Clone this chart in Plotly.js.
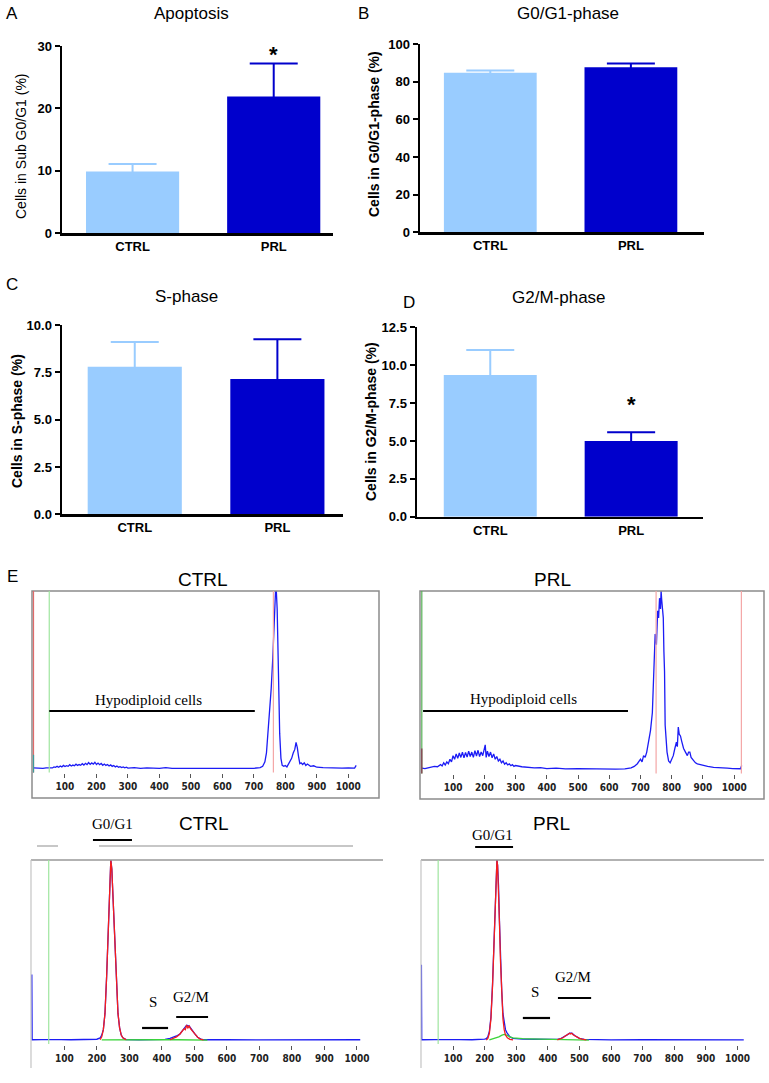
<!DOCTYPE html>
<html>
<head>
<meta charset="utf-8">
<script src="https://cdn.plot.ly/plotly-3.0.1.min.js"></script>
<style>
  html, body { margin: 0; padding: 0; background: #fff; }
  #fig { width: 769px; height: 1083px; }
</style>
</head>
<body>
<div id="fig"></div>
<script>
// Panels A–D: mean % of cells with upper error bar, CTRL vs PRL.
// Panel E: four flow-cytometry DNA histograms (relative counts).

const groups = ['CTRL', 'PRL'];
const groupColours = ['#99CCFF', '#0000CC'];

const apoptosisMean = [9.9, 21.9];
const apoptosisErr  = [1.2, 5.3];
const g0g1Mean      = [84.7, 87.6];
const g0g1Err       = [1.2, 2.1];
const sPhaseMean    = [7.8, 7.15];
const sPhaseErr     = [1.3, 2.1];
const g2mMean       = [9.35, 5.0];
const g2mErr        = [1.65, 0.57];

const histTicks = [100, 200, 300, 400, 500, 600, 700, 800, 900, 1000];

// [channel, relative count] — sub-G1 (hypodiploid) histograms
const ctrlSubG1 = [
  [0,0.006],[10,0.004],[20,0.005],[30,0.003],[40,0.006],[50,0.005],[55,0.008],[60,0.006],[65,0.012],[70,0.009],
  [75,0.015],[80,0.01],[85,0.017],[90,0.012],[95,0.02],[100,0.014],[105,0.019],[110,0.015],[115,0.024],[120,0.017],
  [125,0.022],[130,0.018],[135,0.027],[140,0.02],[145,0.025],[150,0.021],[155,0.03],[160,0.022],[165,0.032],[170,0.025],
  [175,0.036],[180,0.026],[185,0.034],[190,0.027],[195,0.038],[200,0.025],[205,0.033],[210,0.024],[215,0.031],[220,0.021],
  [225,0.028],[230,0.02],[235,0.025],[240,0.017],[245,0.023],[250,0.015],[255,0.02],[260,0.012],[265,0.017],[270,0.01],
  [275,0.013],[280,0.008],[285,0.012],[290,0.007],[295,0.01],[300,0.005],[320,0.008],[340,0.004],[360,0.006],[380,0.003],
  [400,0.004],[420,0.008],[440,0.003],[460,0.004],[480,0.003],[500,0.005],[520,0.003],[540,0.004],[560,0.003],[580,0.004],
  [600,0.003],[620,0.005],[640,0.003],[660,0.004],[680,0.003],[700,0.004],[710,0.004],[720,0.008],[728,0.015],[735,0.04],
  [740,0.09],[745,0.2],[750,0.33],[755,0.45],[760,0.62],[765,0.82],[770,1.05],[774,0.9],[778,0.45],[782,0.2],
  [786,0.06],[790,0.02],[795,0.015],[800,0.02],[805,0.012],[810,0.03],[815,0.045],[820,0.06],[825,0.09],[830,0.11],
  [834,0.15],[838,0.12],[842,0.07],[846,0.03],[850,0.035],[855,0.025],[860,0.035],[865,0.02],[870,0.028],[880,0.015],
  [890,0.018],[900,0.01],[920,0.008],[940,0.006],[960,0.007],[980,0.005],[1000,0.006],[1020,0.005],[1025,0.02]
];
const prlSubG1 = [
  [0,0.01],[10,0.008],[20,0.012],[30,0.015],[40,0.02],[50,0.018],[60,0.03],[65,0.022],[70,0.04],[75,0.028],
  [80,0.045],[85,0.035],[90,0.06],[95,0.045],[100,0.08],[105,0.06],[110,0.09],[115,0.065],[120,0.095],[125,0.07],
  [130,0.1],[135,0.068],[140,0.098],[145,0.072],[150,0.105],[155,0.075],[160,0.1],[165,0.07],[170,0.108],[175,0.078],
  [180,0.11],[185,0.075],[190,0.1],[195,0.08],[200,0.125],[203,0.14],[206,0.07],[210,0.105],[215,0.075],[220,0.1],
  [225,0.068],[230,0.09],[235,0.06],[240,0.075],[245,0.05],[250,0.06],[255,0.04],[260,0.05],[265,0.032],[270,0.04],
  [275,0.028],[280,0.034],[285,0.024],[290,0.03],[295,0.02],[300,0.025],[320,0.018],[340,0.014],[360,0.012],[380,0.013],
  [400,0.008],[430,0.01],[460,0.006],[500,0.007],[540,0.005],[580,0.006],[620,0.005],[650,0.006],[670,0.012],[680,0.02],
  [690,0.035],[700,0.06],[705,0.045],[710,0.08],[715,0.07],[720,0.1],[726,0.155],[732,0.22],[738,0.32],[742,0.53],
  [747,0.76],[751,0.7],[755,0.89],[758,0.85],[761,0.96],[764,0.9],[766,1.0],[768,0.95],[770,0.88],[773,0.85],
  [775,0.66],[777,0.55],[779,0.25],[782,0.15],[785,0.1],[788,0.07],[790,0.05],[795,0.04],[800,0.06],[805,0.08],
  [810,0.12],[815,0.155],[818,0.13],[821,0.24],[824,0.2],[828,0.19],[832,0.16],[838,0.12],[844,0.1],[850,0.08],
  [854,0.1],[858,0.1],[862,0.07],[866,0.06],[870,0.05],[876,0.04],[882,0.034],[890,0.03],[902,0.025],[915,0.02],
  [934,0.015],[950,0.012],[965,0.01],[978,0.01],[995,0.008],[1010,0.006],[1020,0.007],[1024,0.025]
];

// cell-cycle histograms: raw (blue), G0/G1 + G2/M fits (red), S fit (green)
const ctrlCycleRaw = [
  [0,0.365],[1,0.004],[30,0.005],[60,0.003],[90,0.005],[120,0.004],[150,0.005],[180,0.004],[200,0.007],[210,0.014],
  [215,0.03],[220,0.06],[225,0.15],[230,0.35],[235,0.6],[240,0.88],[243,1.0],[246,0.95],[250,0.78],[255,0.55],
  [260,0.3],[265,0.15],[270,0.07],[275,0.03],[280,0.015],[290,0.005],[330,0.004],[370,0.005],[410,0.006],[425,0.012],
  [435,0.018],[445,0.025],[455,0.035],[462,0.05],[468,0.065],[476,0.085],[484,0.08],[492,0.058],[502,0.035],[510,0.018],
  [520,0.008],[530,0.004],[560,0.003],[600,0.004],[700,0.003],[800,0.004],[900,0.003],[1010,0.004]
];
const ctrlG1Fit = [
  [210,0.004],[215,0.02],[220,0.06],[225,0.15],[230,0.35],[235,0.6],[240,0.88],[243,1.0],[246,0.95],[250,0.78],
  [255,0.55],[260,0.3],[265,0.15],[270,0.07],[275,0.03],[280,0.015],[285,0.008],[290,0.004]
];
const ctrlG2mFit = [
  [425,0.004],[435,0.01],[445,0.02],[455,0.035],[462,0.05],[468,0.065],[472,0.06],[476,0.085],[480,0.07],[484,0.08],
  [488,0.065],[492,0.058],[497,0.045],[502,0.035],[510,0.018],[518,0.008],[528,0.003]
];
const ctrlSFit = [
  [215,0.003],[260,0.004],[300,0.003],[350,0.003],[400,0.004],[450,0.004],[500,0.003],[540,0.002]
];
const prlCycleRaw = [
  [0,0.42],[1,0.004],[40,0.005],[80,0.003],[120,0.005],[160,0.004],[190,0.005],[200,0.008],[205,0.01],[210,0.02],
  [215,0.05],[220,0.13],[225,0.31],[230,0.56],[234,0.79],[237,0.95],[239,1.0],[241,0.97],[244,0.86],[247,0.66],
  [250,0.47],[254,0.28],[258,0.15],[262,0.09],[266,0.06],[270,0.045],[275,0.03],[280,0.02],[290,0.012],[300,0.01],
  [320,0.008],[360,0.007],[400,0.006],[430,0.006],[440,0.01],[450,0.018],[460,0.03],[469,0.04],[476,0.04],[486,0.026],
  [500,0.012],[515,0.006],[540,0.004],[600,0.003],[700,0.004],[800,0.003],[900,0.004],[1020,0.003]
];
const prlG1Fit = [
  [205,0.003],[210,0.01],[215,0.04],[220,0.12],[225,0.3],[230,0.55],[234,0.78],[237,0.94],[239,1.0],[241,0.97],
  [244,0.85],[247,0.65],[250,0.45],[254,0.25],[258,0.12],[262,0.06],[266,0.03],[272,0.015],[280,0.006],[290,0.003]
];
const prlG2mFit = [
  [430,0.003],[440,0.008],[448,0.015],[455,0.025],[460,0.03],[465,0.035],[469,0.04],[472,0.036],[476,0.04],[480,0.032],
  [486,0.025],[492,0.02],[500,0.012],[508,0.008],[515,0.005],[522,0.003]
];
const prlSFit = [
  [215,0.003],[225,0.008],[235,0.013],[245,0.02],[255,0.03],[262,0.034],[270,0.03],[280,0.02],[290,0.015],[300,0.012],
  [320,0.01],[340,0.009],[360,0.008],[380,0.007],[400,0.006],[420,0.006],[440,0.005],[470,0.004],[500,0.003],[530,0.002]
];

// gate regions (channels)
const ctrlHypoGate = [50, 703];
const prlHypoGate  = [4, 660];
const ctrlG1Gate = [188, 308], ctrlSGate = [339, 419], ctrlG2mGate = [444, 542];
const prlG1Gate  = [170, 290], prlSGate  = [321, 407], prlG2mGate  = [432, 537];

// ---------------------------------------------------------------------------
const W = 769, H = 1083;
const px = v => v / W;
const py = v => 1 - v / H;

const SANS   = 'Arial, "Liberation Sans", sans-serif';
const SERIF  = '"Times New Roman", "Liberation Serif", serif';
const NARROW = '"Arial Narrow", "Liberation Sans Narrow", "DejaVu Sans Condensed", sans-serif';

const BLUE = '#1c1cf5', RED = '#f51c1c', GREEN = '#3ad43a';

const barPanels = [
  { id: '',  mean: apoptosisMean, err: apoptosisErr, x: [62, 333],  y: [46, 233.3],    xr: [-0.5, 1.42],  yr: [0, 30],   dtick: 10,  fmt: '' },
  { id: '2', mean: g0g1Mean,      err: g0g1Err,      x: [420, 704], y: [44, 232.3],    xr: [-0.5, 1.52],  yr: [0, 100],  dtick: 20,  fmt: '' },
  { id: '3', mean: sPhaseMean,    err: sPhaseErr,    x: [62, 343],  y: [325, 514.3],   xr: [-0.51, 1.46], yr: [0, 10],   dtick: 2.5, fmt: '.1f' },
  { id: '4', mean: g2mMean,       err: g2mErr,       x: [417, 703], y: [327.3, 516.7], xr: [-0.52, 1.51], yr: [0, 12.5], dtick: 2.5, fmt: '.1f' },
];

const histPanels = [
  { id: '5', x: [32, 379],  y: [591, 773],    xr: [-4.8, 1097.5], yr: [-0.0225, 1] },
  { id: '6', x: [420, 764], y: [591, 774],    xr: [-5.8, 1095.4], yr: [-0.0225, 1] },
  { id: '7', x: [31, 383],  y: [860, 1044.5], xr: [-2.5, 1080],   yr: [-0.0222, 1] },
  { id: '8', x: [421, 764], y: [860, 1044.5], xr: [-1.3, 1084],   yr: [-0.0222, 1] },
];

const traces = [];
const layout = {
  width: W, height: H,
  margin: { l: 0, r: 0, t: 0, b: 0 },
  paper_bgcolor: '#fff', plot_bgcolor: 'rgba(0,0,0,0)',
  showlegend: false, barmode: 'overlay',
  font: { family: SANS, color: '#000' },
  shapes: [], annotations: [],
};

barPanels.forEach(p => {
  // lower cap is tucked inside the bar so only the upper whisker shows
  const tuck = p.yr[1] * 0.025;
  groups.forEach((g, i) => traces.push({
    type: 'bar', x: [g], y: [p.mean[i]], width: 0.66,
    xaxis: 'x' + p.id, yaxis: 'y' + p.id,
    marker: { color: groupColours[i], line: { width: 0 } },
    error_y: { type: 'data', symmetric: false, array: [p.err[i]], arrayminus: [tuck],
               color: groupColours[i], thickness: 2, width: 24 },
    hoverinfo: 'skip',
  }));
  layout['xaxis' + p.id] = {
    domain: [px(p.x[0]), px(p.x[1])], anchor: 'y' + p.id, type: 'category',
    range: p.xr, showline: true, linewidth: 2.5, linecolor: '#000',
    ticks: '', showgrid: false, zeroline: false,
    tickfont: { family: SANS, size: 13, weight: 'bold', color: '#000' },
  };
  layout['yaxis' + p.id] = {
    domain: [py(p.y[1]), py(p.y[0])], anchor: 'x' + p.id,
    range: p.yr, dtick: p.dtick, tick0: 0, tickformat: p.fmt,
    showline: true, linewidth: 2.5, linecolor: '#000',
    ticks: 'outside', ticklen: 5, tickwidth: 2, tickcolor: '#000',
    showgrid: false, zeroline: false,
    tickfont: { family: SANS, size: 13, weight: 'bold', color: '#000' },
  };
});

histPanels.forEach(p => {
  layout['xaxis' + p.id] = {
    domain: [px(p.x[0]), px(p.x[1])], anchor: 'y' + p.id,
    range: p.xr, tickvals: histTicks, ticks: 'outside', ticklen: 4, tickwidth: 1,
    tickcolor: '#555', showline: false, showgrid: false, zeroline: false,
    tickfont: { family: NARROW, size: 10, weight: 'bold', color: '#222' },
  };
  layout['yaxis' + p.id] = {
    domain: [py(p.y[1]), py(p.y[0])], anchor: 'x' + p.id,
    range: p.yr, visible: false,
  };
});

function curve(points, ax, colour) {
  traces.push({
    type: 'scatter', mode: 'lines',
    x: points.map(p => p[0]), y: points.map(p => p[1]),
    xaxis: 'x' + ax, yaxis: 'y' + ax,
    line: { color: colour, width: 1.3 }, hoverinfo: 'skip',
  });
}
curve(ctrlSubG1, '5', BLUE);
curve(prlSubG1, '6', BLUE);
curve(ctrlCycleRaw, '7', BLUE);
curve(ctrlSFit, '7', GREEN);
curve(ctrlG1Fit, '7', RED);
curve(ctrlG2mFit, '7', RED);
curve(prlCycleRaw, '8', BLUE);
curve(prlSFit, '8', GREEN);
curve(prlG1Fit, '8', RED);
curve(prlG2mFit, '8', RED);

const S = layout.shapes, A = layout.annotations;

function paperLine(x0, y0, x1, y1, colour, width) {
  S.push({ type: 'line', xref: 'paper', yref: 'paper', x0: px(x0), x1: px(x1), y0: py(y0), y1: py(y1),
           line: { color: colour, width: width } });
}
function vline(ax, xv, y1, colour) {
  S.push({ type: 'line', xref: 'x' + ax, yref: 'y' + ax, x0: xv, x1: xv, y0: -0.02, y1: y1,
           line: { color: colour, width: 1.2 } });
}
function gate(ax, g, yPx) {
  S.push({ type: 'line', xref: 'x' + ax, yref: 'paper', x0: g[0], x1: g[1], y0: py(yPx), y1: py(yPx),
           line: { color: '#000', width: 2.2 } });
}
function label(text, x, y, size, opts) {
  A.push(Object.assign({ text, x: px(x), y: py(y), xref: 'paper', yref: 'paper', showarrow: false,
                         xanchor: 'center', yanchor: 'middle', font: { family: SANS, size, color: '#000' } }, opts || {}));
}
function gateLabel(ax, text, xv, yPx) {
  A.push({ text, x: xv, y: py(yPx), xref: 'x' + ax, yref: 'paper', showarrow: false,
           xanchor: 'center', yanchor: 'middle', font: { family: SERIF, size: 15, color: '#000' } });
}

// frames round the histograms
[[32, 591, 379, 798], [420, 591, 764, 799]].forEach(([x0, y0, x1, y1]) =>
  S.push({ type: 'rect', xref: 'paper', yref: 'paper', x0: px(x0), x1: px(x1), y0: py(y1), y1: py(y0),
           line: { color: '#8c8c8c', width: 1.5 } }));
paperLine(31, 860, 383, 860, '#999', 1.5);
paperLine(31, 860, 31, 1068, '#c4c4c4', 1.2);
paperLine(421, 860, 764, 860, '#999', 1.5);
paperLine(421, 860, 421, 1068, '#c4c4c4', 1.2);
paperLine(37, 846, 58, 846, '#b5b5b5', 1.5);
paperLine(99, 846, 353, 846, '#b5b5b5', 1.5);

// cursor / marker lines
vline('5', 0, 1, '#e06a6a');
vline('5', 0, 0.08, '#3c9c9c');
vline('5', 50, 1, '#9fe59f');
vline('5', 762, 1, '#f4a6a6');
vline('6', 0, 1, '#55b055');
vline('6', 0, 0.12, '#8b3050');
vline('6', 750, 1, '#f4a6a6');
vline('6', 1023, 1, '#f4a6a6');
vline('7', 52, 1, '#9fe59f');
vline('8', 53, 1, '#9fe59f');

// gates
gate('5', ctrlHypoGate, 711);
gate('6', prlHypoGate, 711);
gate('7', ctrlG1Gate, 840);
gate('7', ctrlSGate, 1028);
gate('7', ctrlG2mGate, 1017);
gate('8', prlG1Gate, 847);
gate('8', prlSGate, 1018);
gate('8', prlG2mGate, 998);
gateLabel('5', 'Hypodiploid cells', 364, 700);
gateLabel('6', 'Hypodiploid cells', 327, 699);
gateLabel('7', 'G0/G1', 247, 824);
gateLabel('7', 'S', 373, 1002);
gateLabel('7', 'G2/M', 490, 997);
gateLabel('8', 'G0/G1', 224, 835);
gateLabel('8', 'S', 359, 992);
gateLabel('8', 'G2/M', 480, 977);

// panel letters and titles
label('A', 12, 14, 17);
label('Apoptosis', 191, 14, 17);
label('B', 363, 14, 17);
label('G0/G1-phase', 568, 14, 17);
label('C', 12, 285, 17);
label('S-phase', 186, 296, 17);
label('D', 409, 302, 17);
label('G2/M-phase', 559, 297, 17);
label('E', 12, 576, 17);
label('CTRL', 203, 579, 19);
label('PRL', 552, 579, 19);
label('CTRL', 204, 823, 19);
label('PRL', 551, 823, 19);

// y-axis titles
const boldTitle = { family: SANS, size: 14, weight: 'bold', color: '#000' };
label('Cells in Sub G0/G1 (%)', 21, 146, 14, { textangle: -90 });
label('Cells in G0/G1-phase (%)', 374, 134, 14, { textangle: -90, font: boldTitle });
label('Cells in S-phase (%)', 17, 421, 14, { textangle: -90, font: boldTitle });
label('Cells in G2/M-phase (%)', 371, 422, 14, { textangle: -90, font: boldTitle });

// significance marks
A.push({ text: '*', x: 'PRL', y: 28.6, xref: 'x', yref: 'y', showarrow: false, yanchor: 'middle',
         font: { family: SANS, size: 22, weight: 'bold', color: '#000' } });
A.push({ text: '*', x: 'PRL', y: 7.4, xref: 'x4', yref: 'y4', showarrow: false, yanchor: 'middle',
         font: { family: SANS, size: 22, weight: 'bold', color: '#000' } });

Plotly.newPlot('fig', traces, layout, { staticPlot: true, displayModeBar: false });
</script>
</body>
</html>
